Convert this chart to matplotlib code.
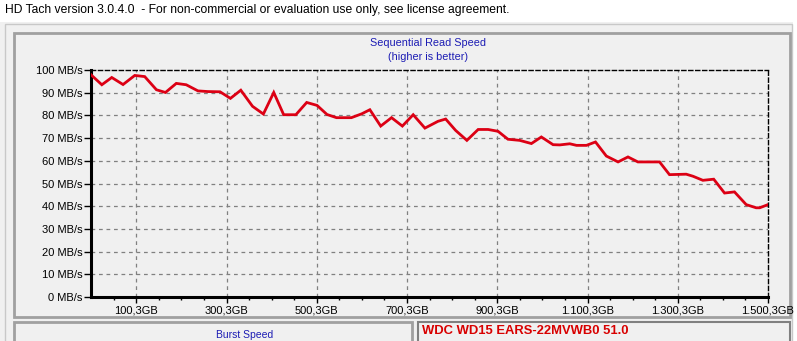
import numpy as np
import matplotlib
matplotlib.use("Agg")
import matplotlib.pyplot as plt
from matplotlib.patches import Rectangle

plt.rcParams.update({
    "font.family": ["Liberation Sans", "DejaVu Sans"],
    "font.size": 8,
})

# position on disk (GB) and read speed (MB/s)
pos_gb = [0, 24, 46, 71, 97, 119, 145, 165, 189, 211, 237, 259, 286, 309, 332,
          358, 382, 405, 427, 454, 478, 501, 523, 544, 577, 600, 618, 642, 666,
          690, 714, 740, 769, 786, 808, 833, 858, 880, 902, 924, 950, 976, 998,
          1024, 1039, 1061, 1076, 1098, 1118, 1142, 1168, 1190, 1212, 1260,
          1282, 1319, 1334, 1356, 1380, 1404, 1426, 1452, 1474, 1482, 1500.3]
speed = [97.9, 93.5, 96.7, 93.6, 97.6, 97.1, 91.3, 90.1, 94.1, 93.5, 90.8, 90.5,
         90.4, 87.5, 91.1, 84.0, 80.6, 90.1, 80.3, 80.3, 85.7, 84.4, 80.4, 79.0,
         79.0, 80.7, 82.5, 75.3, 79.0, 75.3, 80.3, 74.4, 77.4, 78.4, 73.4, 69.0,
         73.8, 73.8, 73.0, 69.5, 69.0, 67.6, 70.5, 67.1, 67.0, 67.5, 66.8, 66.8,
         68.3, 62.1, 59.5, 61.7, 59.5, 59.5, 53.9, 54.1, 53.2, 51.4, 51.9, 45.8,
         46.3, 40.7, 39.3, 39.3, 40.7]

x_ticks = [100.3, 300.3, 500.3, 700.3, 900.3, 1100.3, 1300.3, 1500.3]
x_labels = ["100,3GB", "300,3GB", "500,3GB", "700,3GB", "900,3GB",
            "1.100,3GB", "1.300,3GB", "1.500,3GB"]
y_ticks = [0, 10, 20, 30, 40, 50, 60, 70, 80, 90, 100]
y_labels = [f"{v} MB/s" for v in y_ticks]

W, H = 797, 341
PANEL = "#f0f0f0"
BLUE = "#1c1cb4"

fig = plt.figure(figsize=(W / 100, H / 100), dpi=100)
fig.patch.set_facecolor("white")

# ── window chrome, drawn in pixel coords ──────────────────────────────
bg = fig.add_axes([0, 0, 1, 1])
bg.set_xlim(0, W)
bg.set_ylim(H, 0)
bg.axis("off")

bg.add_patch(Rectangle((0, 22), 793, 330, facecolor=PANEL, edgecolor="none"))
bg.add_patch(Rectangle((5, 24), 787, 330, facecolor=PANEL, edgecolor="#c8c8c8", lw=1))
bg.add_patch(Rectangle((14, 33), 776, 284, facecolor=PANEL, edgecolor="#a0a0a0", lw=2))
bg.add_patch(Rectangle((14, 322), 398, 30, facecolor=PANEL, edgecolor="#a0a0a0", lw=2))
bg.add_patch(Rectangle((418, 322), 372, 30, facecolor=PANEL, edgecolor="#808080", lw=1.5))

bg.text(5, 10, "HD Tach version 3.0.4.0  - For non-commercial or evaluation use only, see license agreement.",
        fontsize=8.7, color="black", va="center", ha="left")
bg.text(428, 43, "Sequential Read Speed", fontsize=7.8, color=BLUE, ha="center", va="center")
bg.text(428, 57, "(higher is better)", fontsize=7.8, color=BLUE, ha="center", va="center")
bg.text(245, 335.5, "Burst Speed", fontsize=7.5, color=BLUE, ha="center", va="center")
bg.text(422, 331, "WDC WD15 EARS-22MVWB0 51.0", fontsize=9.4, fontweight="bold",
        color="#d80000", ha="left", va="center")

# ── chart ─────────────────────────────────────────────────────────────
L, R, T, B = 91, 768, 70, 297
ax = fig.add_axes([L / W, (H - B) / H, (R - L) / W, (B - T) / H])
ax.set_facecolor(PANEL)
ax.set_xlim(0, 1500.3)
ax.set_ylim(0, 100)

for xv in x_ticks[:-1]:
    ax.axvline(xv, color="#808080", lw=0.9, ls=(0, (3, 3)), zorder=1)
for yv in y_ticks[1:-1]:
    ax.axhline(yv, color="#808080", lw=0.9, ls=(0, (3, 3)), zorder=1)

ax.plot(pos_gb, speed, color="#dc0014", lw=2, zorder=3, solid_joinstyle="miter")

for side in ("left", "bottom"):
    ax.spines[side].set_linewidth(2.2)
    ax.spines[side].set_color("black")
for side in ("top", "right"):
    ax.spines[side].set_linewidth(1)
    ax.spines[side].set_linestyle((0, (3, 2)))
    ax.spines[side].set_color("black")

ax.set_yticks(y_ticks)
ax.set_yticklabels(y_labels)
ax.set_xticks(x_ticks)
ax.set_xticklabels(x_labels)
ax.set_xticks(np.arange(50.3, 1500, 50), minor=True)
ax.tick_params(axis="y", direction="out", length=5, width=1, pad=1, labelsize=8)
ax.tick_params(axis="x", which="major", direction="out", length=4, width=1, pad=2, labelsize=8)
ax.tick_params(axis="x", which="minor", direction="out", length=2, width=1)

fig.savefig("out.png", dpi=100, facecolor="white")
